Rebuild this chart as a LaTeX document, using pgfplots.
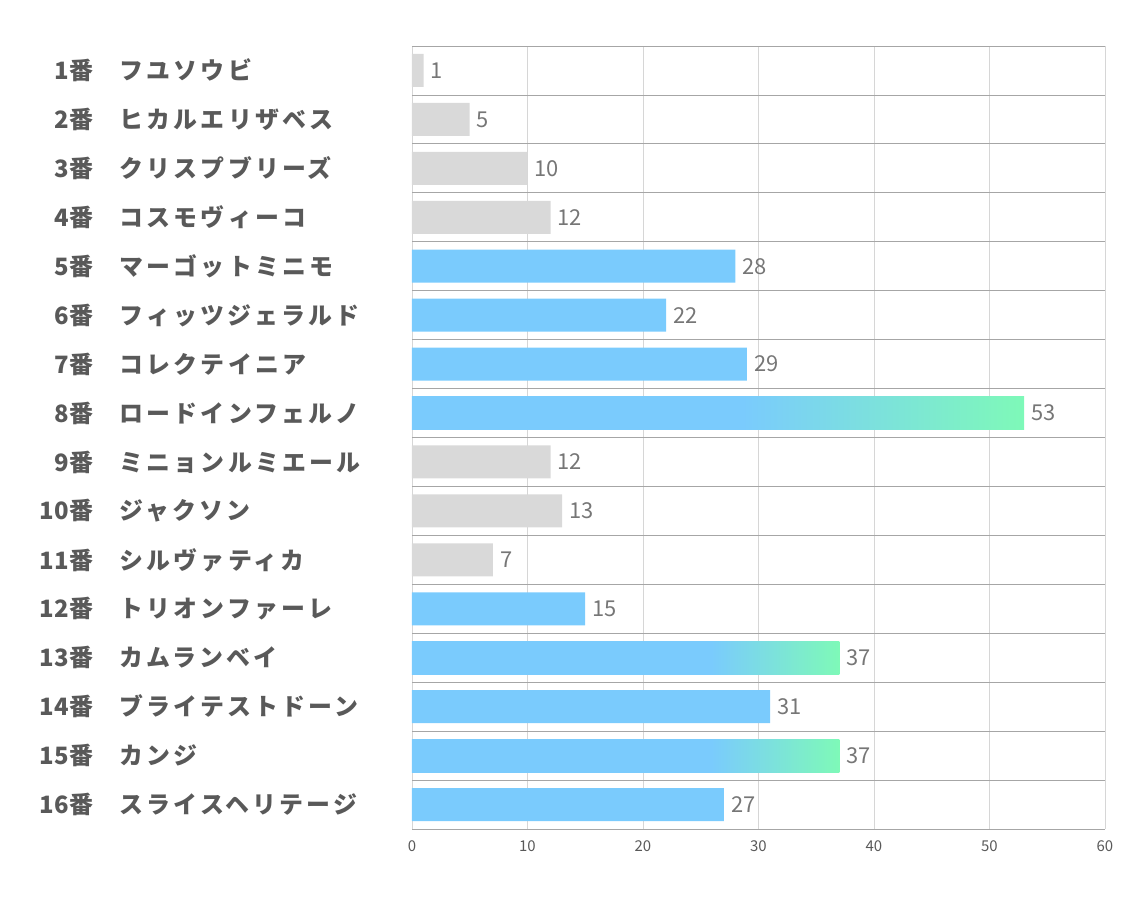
\documentclass[border=0pt]{standalone}
\usepackage{pgfplots}
\pgfplotsset{compat=1.18}
\usepackage{fontspec}
\setmainfont{Noto Sans CJK JP}
\definecolor{barblue}{RGB}{122,203,253}
\definecolor{bargreen}{RGB}{126,249,184}
\definecolor{bargray}{RGB}{217,217,217}
\definecolor{hgrid}{RGB}{166,166,166}
\definecolor{vgrid}{RGB}{214,214,214}
\definecolor{lab}{RGB}{89,89,89}
\definecolor{val}{RGB}{118,118,118}
\pgfdeclarehorizontalshading{gradA}{100bp}{color(0bp)=(barblue); color(52bp)=(barblue); color(75bp)=(bargreen); color(100bp)=(bargreen)}
\pgfdeclarehorizontalshading{gradB}{100bp}{color(0bp)=(barblue); color(60bp)=(barblue); color(75bp)=(bargreen); color(100bp)=(bargreen)}
\newcommand\lab[2]{\makebox[63bp][r]{#1}\hspace{27bp}{\addfontfeatures{LetterSpace=13}#2}}
\begin{document}
\begin{tikzpicture}
\path[use as bounding box] (-412bp,-78bp) rectangle (722bp,829bp);
\begin{axis}[
  at={(0,0)}, anchor=south west,
  scale only axis, width=693bp, height=783bp,
  xmin=0, xmax=60, ymin=0.5, ymax=16.5, y dir=reverse,
  xtick={0,10,...,60}, ytick={1,...,16},
  yticklabels={\lab{1番}{フユソウビ},\lab{2番}{ヒカルエリザベス},\lab{3番}{クリスプブリーズ},\lab{4番}{コスモヴィーコ},\lab{5番}{マーゴットミニモ},\lab{6番}{フィッツジェラルド},\lab{7番}{コレクテイニア},\lab{8番}{ロードインフェルノ},\lab{9番}{ミニョンルミエール},\lab{10番}{ジャクソン},\lab{11番}{シルヴァティカ},\lab{12番}{トリオンファーレ},\lab{13番}{カムランベイ},\lab{14番}{ブライテストドーン},\lab{15番}{カンジ},\lab{16番}{スライスヘリテージ}},
  minor ytick={0.5,1.5,...,16.5},
  xmajorgrids, yminorgrids,
  major x grid style={vgrid, line width=0.8pt},
  minor y grid style={hgrid, line width=0.8pt},
  axis line style={draw=none},
  major tick style={draw=none}, minor tick style={draw=none},
  /pgf/number format/assume math mode=true,
  xticklabel style={font=\fontsize{15}{15}\selectfont, text=lab, yshift=-8bp},
  yticklabel style={anchor=west, xshift=-378bp, inner sep=0pt, font=\bfseries\fontsize{24}{24}\selectfont, text=lab},
  xbar, bar width=33bp, bar shift=0pt,
  nodes near coords,
  every node near coord/.append style={font=\fontsize{22}{22}\selectfont, text=val, anchor=west, inner sep=0pt, xshift=7bp},
]
\addplot[draw=none, fill=bargray] coordinates {(1,1) (5,2) (10,3) (12,4) (12,9) (13,10) (7,11)};
\addplot[draw=none, fill=barblue] coordinates {(28,5) (22,6) (29,7) (15,12) (31,14) (27,16)};
\addplot[draw=none, shading=gradA] coordinates {(53,8)};
\addplot[draw=none, shading=gradB] coordinates {(37,13)};
\addplot[draw=none, shading=gradB] coordinates {(37,15)};
\end{axis}
\end{tikzpicture}
\end{document}
